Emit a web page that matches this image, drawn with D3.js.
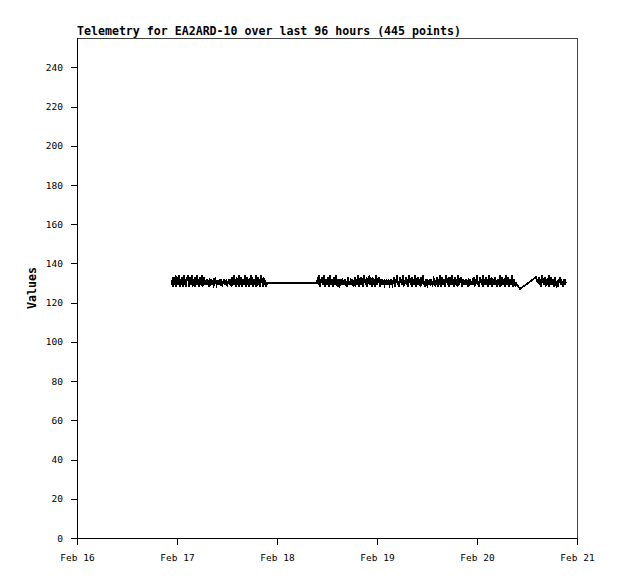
<!DOCTYPE html>
<html><head><meta charset="utf-8">
<script src="https://cdn.jsdelivr.net/npm/d3@7"></script>
<style>body{margin:0;background:#fff}svg{display:block}</style>
</head><body>
<script>
const title = "Telemetry for EA2ARD-10 over last 96 hours (445 points)";
const yLabel = "Values";
const xTickDates = ["2024-02-16","2024-02-17","2024-02-18","2024-02-19","2024-02-20","2024-02-21"];
const yTicks = [0,20,40,60,80,100,120,140,160,180,200,220,240];
// segments: [start, end] in UTC, values evenly spaced between
const seg1Range = ["2024-02-16T22:48:00Z","2024-02-17T21:36:00Z"];
const seg1 = [129,133,128,132,130,134,128,131,133,129,134,128,132,129,133,130,128,134,129,132,128,133,131,134,128,130,133,129,134,128,132,130,133,128,131,134,129,132,128,133,130,129,134,128,131,133,129,
130,131,129,132,130,129,131,130,132,129,130,131,129,130,132,131,129,130,131,130,129,132,130,131,129,130,131,132,129,130,131,129,130,132,130,
129,132,128,133,130,134,129,131,128,133,130,132,128,134,129,131,133,128,130,132,129,134,128,131,133,129,132,128,130,134,129,133,128,131,132,129,134,128,130,133,129,131,128,134,130,132,128,133,129,131,130,128,130];
const seg2Range = ["2024-02-18T09:36:00Z","2024-02-20T09:21:00Z"];
const seg2 = [130,133,129,134,128,132,130,133,129,131,134,128,132,130,129,133,128,131,134,129,130,132,128,133,131,129,134,130,128,132,
131,129,130,132,129,131,130,129,132,130,128,131,133,129,130,131,129,132,130,129,130,133,128,132,129,134,130,128,131,133,
129,132,128,134,130,131,129,133,128,132,130,134,129,131,128,133,130,129,132,128,134,129,131,130,133,128,132,129,130,131,
130,129,131,130,132,129,130,131,129,130,132,130,129,131,133,128,132,130,134,129,131,128,133,130,132,129,134,128,131,130,
133,129,132,128,134,130,131,129,133,128,132,130,129,134,128,131,133,129,130,132,128,133,130,134,129,131,128,132,130,129,
131,130,129,132,130,131,129,130,132,131,129,130,133,128,132,129,134,130,128,133,131,129,132,128,134,130,131,129,133,128,
132,130,134,129,131,128,133,130,129,132,128,134,129,131,130,133,128,132,129,130,131,129,132,130,129,131,130,132,129,130,
131,129,133,128,132,130,134,129,131,128,133,130,132,129,134,128,131,130,133,129,132,128,130,134,129,131,133,128,132,130,
129,133,130,128,132,131,129,134,128,130,133,129,131,132,128,134,130,129,133,128,131,132,129,130,134,128,132,131,129,130];
const midTimes = ["2024-02-20T10:19:00Z","2024-02-20T14:10:00Z"];
const midVals = [127,133];
const seg3Range = ["2024-02-20T14:38:00Z","2024-02-20T21:22:00Z"];
const seg3 = [130,133,129,132,128,134,130,131,129,133,128,132,130,129,134,128,131,133,129,130,132,128,133,130,129,131,128,132,130,133,129,131,130,128,132,129,131,130];

const W = 618, H = 579;
const L = 77, R = 577, T = 38, B = 538;
const svg = d3.select("body").append("svg").attr("width", W).attr("height", H);

function expand(range, vals) {
  const t0 = new Date(range[0]).getTime(), t1 = new Date(range[1]).getTime();
  return vals.map((v, i) => ({t: new Date(t0 + (t1 - t0) * i / (vals.length - 1)), v}));
}
const data = [].concat(
  expand(seg1Range, seg1),
  expand(seg2Range, seg2),
  midTimes.map((d, i) => ({t: new Date(d), v: midVals[i]})),
  expand(seg3Range, seg3)
);

const x = d3.scaleUtc().domain([new Date(xTickDates[0]), new Date(xTickDates[xTickDates.length-1])]).range([L, R]);
const y = d3.scaleLinear().domain([0, 255]).range([B, T]);

const mono = "'DejaVu Sans Mono', monospace";

// frame top/right
svg.append("path").attr("d", `M${L},${T+0.5}H${R+0.5}V${B}`).attr("fill","none").attr("stroke","#444").attr("shape-rendering","crispEdges");

const yAxis = d3.axisLeft(y).tickValues(yTicks).tickSize(6).tickPadding(8);
const gy = svg.append("g").attr("transform", `translate(${L},0)`).call(yAxis);
const fmt = d3.utcFormat("%b %d");
const xAxis = d3.axisBottom(x).tickValues(xTickDates.map(d => new Date(d))).tickSize(7).tickPadding(9).tickFormat(d => fmt(d));
const gx = svg.append("g").attr("transform", `translate(0,${B})`).call(xAxis);
[gx, gy].forEach(g => {
  g.selectAll(".domain").attr("stroke","#000").attr("shape-rendering","crispEdges");
  g.selectAll(".tick line").attr("stroke","#000").attr("shape-rendering","crispEdges");
  g.selectAll("text").attr("font-family", mono).attr("font-size", "9.5px").attr("fill","#000");
});
gy.select(".domain").attr("d", `M0.5,${B}V${T}`);
gx.select(".domain").attr("d", `M${L},0.5H${R}`);

svg.append("text").attr("x", L).attr("y", 35).attr("font-family", mono).attr("font-weight","bold")
  .attr("font-size","11.6px").text(title);
svg.append("text").attr("transform", `translate(36,${(T+B)/2}) rotate(-90)`).attr("text-anchor","middle")
  .attr("font-family", mono).attr("font-weight","bold").attr("font-size","11.6px").text(yLabel);

const line = d3.line().x(d => x(d.t)).y(d => y(d.v));
svg.append("path").datum(data).attr("d", line).attr("fill","none").attr("stroke","#000")
  .attr("stroke-width", 1.8).attr("stroke-linejoin","miter").attr("shape-rendering","crispEdges");
</script>
</body></html>
